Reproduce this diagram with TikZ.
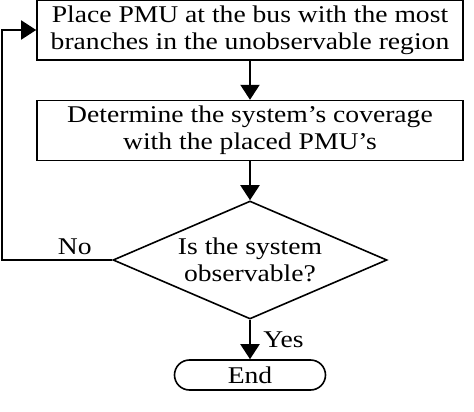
\documentclass[tikz,border=0pt]{standalone}
\usepackage{fontspec}
\setmainfont{Liberation Serif}[FakeStretch=1.15]
\usetikzlibrary{arrows.meta,shapes.geometric,shapes.misc,positioning}

\begin{document}
\begin{tikzpicture}[x=1pt,y=-1pt,>={Triangle[length=15pt,width=19pt]},font=\fontsize{24}{27}\selectfont]
  \tikzstyle{process}=[rectangle,draw=black,line width=1.6pt,minimum width=426pt,minimum height=60pt,align=center,inner sep=0pt]
  \tikzstyle{decision}=[diamond,draw=black,line width=1.6pt,aspect=2.32,minimum width=274pt,minimum height=118pt,inner sep=0pt,align=center]
  \tikzstyle{terminal}=[rounded rectangle,draw=black,line width=1.6pt,minimum width=151pt,minimum height=30pt,inner sep=0pt]
  \tikzstyle{flow}=[->,line width=2pt]
  \tikzstyle{every label}=[black]

  \useasboundingbox (0,0) rectangle (474,412);

  % Steps
  \node [process] (place) at (250,30)
    {Place PMU at the bus with the most\\branches in the unobservable region};
  \node [process] (cover) [below = 39pt of place]
    {Determine the system's coverage\\with the placed PMU's};
  \node [decision] (check) at (250,260) {Is the system\\observable?};
  \node [terminal] (end) at (250,375) {End};
  \coordinate (back) at (2,260);

  % Connectors
  \draw [flow] (place) -- (cover);
  \draw [flow] (cover) -- (check);
  \draw [flow] (check) -- node [right=9pt,pos=0.5] (yes) {Yes} (end);
  \draw [flow,line width=1.6pt] (check.west) -- node [above=1pt,pos=0.34] (no) {No} (back) |- (place.west);
\end{tikzpicture}
\end{document}
